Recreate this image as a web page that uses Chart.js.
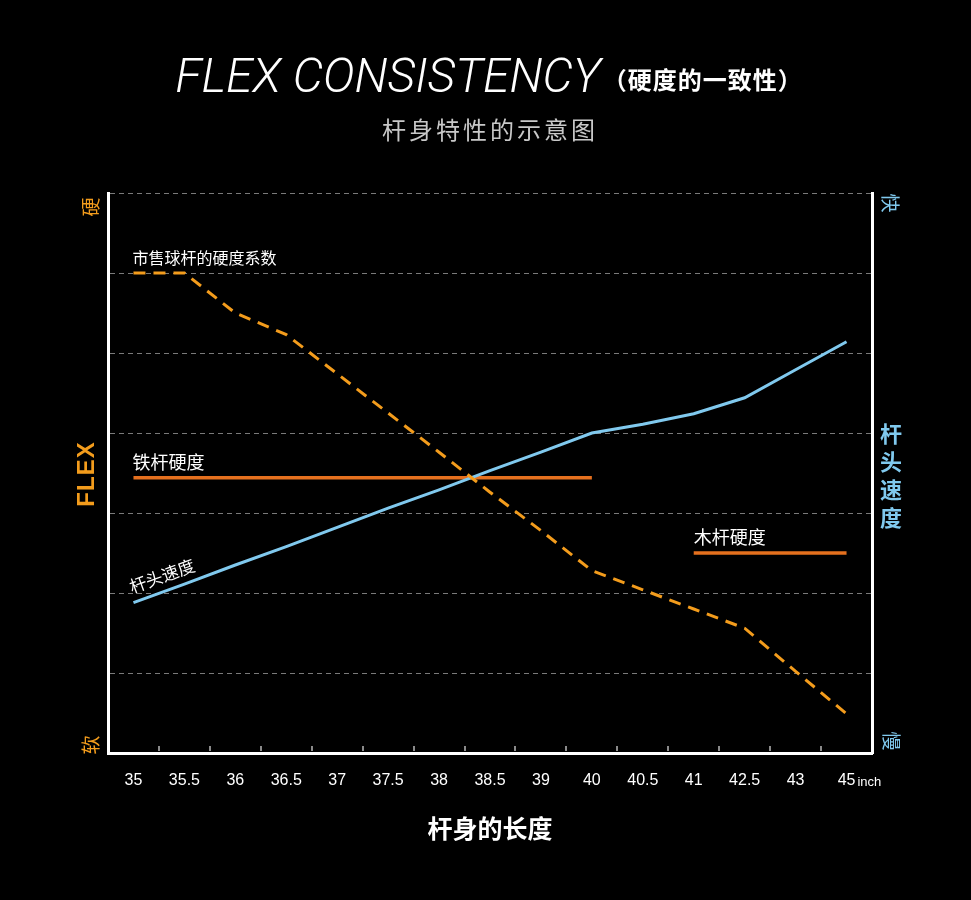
<!DOCTYPE html>
<html lang="zh">
<head>
  <meta charset="UTF-8">
  <title>Flex Consistency</title>
  <script src="https://cdn.jsdelivr.net/npm/chart.js"></script>
  <style>
    html, body { margin: 0; padding: 0; background: #000; }
    #flexChart { display: block; }
  </style>
</head>
<body>
  <canvas id="flexChart" width="971" height="900"></canvas>
  <script>
    // shaft length categories (inch)
    const shaftLengths = ['35', '35.5', '36', '36.5', '37', '37.5', '38', '38.5', '39', '40', '40.5', '41', '42.5', '43', '45'];
    // 市售球杆的硬度系数 (dashed)
    const marketFlex = [6.0, 6.0, 5.5, 5.23, 4.74, 4.25, 3.76, 3.26, 2.78, 2.28, 2.04, 1.8, 1.56, 1.02, 0.49];
    // 杆头速度
    const headSpeed = [1.88, 2.11, 2.35, 2.58, 2.82, 3.06, 3.29, 3.53, 3.76, 4.0, 4.11, 4.24, 4.44, 4.79, 5.14];
    // 铁杆硬度 / 木杆硬度
    const ironFlex = [3.44, 3.44, 3.44, 3.44, 3.44, 3.44, 3.44, 3.44, 3.44, 3.44, null, null, null, null, null];
    const woodFlex = [null, null, null, null, null, null, null, null, null, null, null, 2.5, 2.5, 2.5, 2.5];
    const yMin = 0;
    const yMax = 7;

    const cjk = '"Noto Sans CJK SC", "Noto Sans", sans-serif';
    const latin = '"Liberation Sans", Arial, sans-serif';
    const orange = '#f39c1c';
    const darkOrange = '#e5701e';
    const blue = '#80c9ee';

    function firstIndex(arr) {
      return arr.findIndex(v => v !== null);
    }

    function rotatedText(ctx, text, x, y, angle) {
      ctx.save();
      ctx.translate(x, y);
      ctx.rotate(angle);
      ctx.fillText(text, 0, 0);
      ctx.restore();
    }

    const decorations = {
      id: 'decorations',
      afterDraw(chart) {
        const ctx = chart.ctx;
        const xs = chart.scales.x;
        const ys = chart.scales.y;
        const area = chart.chartArea;
        ctx.save();

        // small tick marks between categories, inside the plot
        ctx.strokeStyle = '#8a8a8a';
        ctx.lineWidth = 2;
        for (let i = 1; i < shaftLengths.length; i++) {
          const px = Math.round((xs.getPixelForValue(i - 1) + xs.getPixelForValue(i)) / 2);
          ctx.beginPath();
          ctx.moveTo(px, area.bottom - 2);
          ctx.lineTo(px, area.bottom - 7);
          ctx.stroke();
        }

        // "inch" after the last tick
        ctx.fillStyle = '#fff';
        ctx.font = '16px ' + latin;
        const lastW = ctx.measureText(shaftLengths[shaftLengths.length - 1]).width;
        ctx.font = '13px ' + latin;
        ctx.textAlign = 'left';
        ctx.textBaseline = 'alphabetic';
        ctx.fillText('inch', xs.getPixelForValue(shaftLengths.length - 1) + lastW / 2 + 2, 786);

        // title
        const t1 = 'FLEX CONSISTENCY';
        const t2 = '（硬度的一致性）';
        const f1 = 'italic 300 48px Roboto, ' + latin;
        const f2 = 'bold 24px ' + cjk;
        ctx.font = f1;
        const w1 = ctx.measureText(t1).width;
        ctx.font = f2;
        ctx.letterSpacing = '1px';
        const w2 = ctx.measureText(t2).width;
        const sx = 489 - (w1 + w2 + 2) / 2;
        ctx.textBaseline = 'middle';
        ctx.fillText(t2, sx + w1 + 2, 80);
        ctx.letterSpacing = '0px';
        ctx.font = f1;
        ctx.textBaseline = 'alphabetic';
        ctx.fillText(t1, sx, 92);
        ctx.textBaseline = 'middle';

        // subtitle
        ctx.fillStyle = '#c8c8c8';
        ctx.font = '24px ' + cjk;
        ctx.letterSpacing = '3px';
        ctx.textAlign = 'center';
        ctx.fillText('杆身特性的示意图', 490, 130);
        ctx.letterSpacing = '0px';

        // left axis labels
        ctx.fillStyle = orange;
        ctx.font = 'bold 24px ' + latin;
        ctx.letterSpacing = '1px';
        rotatedText(ctx, 'FLEX', 87, 474, -Math.PI / 2);
        ctx.letterSpacing = '0px';
        ctx.font = '19px ' + cjk;
        rotatedText(ctx, '硬', 91, 207, -Math.PI / 2);
        rotatedText(ctx, '软', 91, 745, -Math.PI / 2);

        // right axis labels
        ctx.fillStyle = blue;
        rotatedText(ctx, '快', 890, 203, Math.PI / 2);
        rotatedText(ctx, '慢', 891, 741, Math.PI / 2);
        ctx.font = 'bold 22px ' + cjk;
        ['杆', '头', '速', '度'].forEach((ch, i) => {
          ctx.fillText(ch, 891, 434 + i * 28);
        });

        // line labels, anchored to the data
        ctx.fillStyle = '#fff';
        ctx.textAlign = 'left';
        let i0 = firstIndex(marketFlex);
        ctx.font = '16px ' + cjk;
        ctx.fillText('市售球杆的硬度系数', xs.getPixelForValue(i0) - 1, ys.getPixelForValue(marketFlex[i0]) - 15);

        ctx.font = '18px ' + cjk;
        i0 = firstIndex(ironFlex);
        ctx.fillText('铁杆硬度', xs.getPixelForValue(i0) - 1, ys.getPixelForValue(ironFlex[i0]) - 16);
        i0 = firstIndex(woodFlex);
        ctx.fillText('木杆硬度', xs.getPixelForValue(i0), ys.getPixelForValue(woodFlex[i0]) - 16);

        // speed label along the line
        const ax = xs.getPixelForValue(0), ay = ys.getPixelForValue(headSpeed[0]);
        const bx = xs.getPixelForValue(1), by = ys.getPixelForValue(headSpeed[1]);
        const ang = Math.atan2(by - ay, bx - ax);
        ctx.font = '17px ' + cjk;
        ctx.textBaseline = 'alphabetic';
        ctx.save();
        ctx.translate(ax, ay);
        ctx.rotate(ang);
        ctx.fillText('杆头速度', 2, -9);
        ctx.restore();

        ctx.restore();
      }
    };

    const ctx = document.getElementById('flexChart').getContext('2d');
    const chart = new Chart(ctx, {
      type: 'line',
      data: {
        labels: shaftLengths,
        datasets: [
          { label: '市售球杆的硬度系数', data: marketFlex, borderColor: orange, borderWidth: 3, borderDash: [12, 8], pointRadius: 0, tension: 0, fill: false },
          { label: '杆头速度', data: headSpeed, borderColor: blue, borderWidth: 3, pointRadius: 0, tension: 0, fill: false },
          { label: '铁杆硬度', data: ironFlex, borderColor: darkOrange, borderWidth: 3.5, pointRadius: 0, spanGaps: false, fill: false },
          { label: '木杆硬度', data: woodFlex, borderColor: darkOrange, borderWidth: 3.5, pointRadius: 0, spanGaps: false, fill: false }
        ]
      },
      options: {
        responsive: false,
        animation: false,
        layout: { padding: { left: 108, right: 99, top: 193, bottom: 0 } },
        plugins: {
          legend: { display: false },
          tooltip: { enabled: false }
        },
        scales: {
          x: {
            type: 'category',
            offset: true,
            grid: { display: false, drawTicks: false },
            border: { display: true, color: '#fff', width: 3 },
            ticks: { color: '#fff', font: { family: latin, size: 16 }, padding: 18, maxRotation: 0, autoSkip: false },
            title: { display: true, text: '杆身的长度', color: '#fff', font: { family: cjk, size: 25, weight: 'bold' }, padding: { top: 0, bottom: 57 } },
            afterFit(scale) { scale.height = 147; }
          },
          y: {
            position: 'left',
            min: yMin,
            max: yMax,
            ticks: { display: false, stepSize: 1 },
            grid: { color: '#7a7a7a', lineWidth: 1, drawTicks: false },
            border: { display: true, color: '#fff', width: 3, dash: [5, 4] },
            afterFit(scale) { scale.width = 0; }
          },
          y2: {
            position: 'right',
            min: yMin,
            max: yMax,
            ticks: { display: false },
            grid: { display: false, drawTicks: false },
            border: { display: true, color: '#fff', width: 3 },
            afterFit(scale) { scale.width = 0; }
          }
        }
      },
      plugins: [decorations]
    });
  </script>
</body>
</html>
